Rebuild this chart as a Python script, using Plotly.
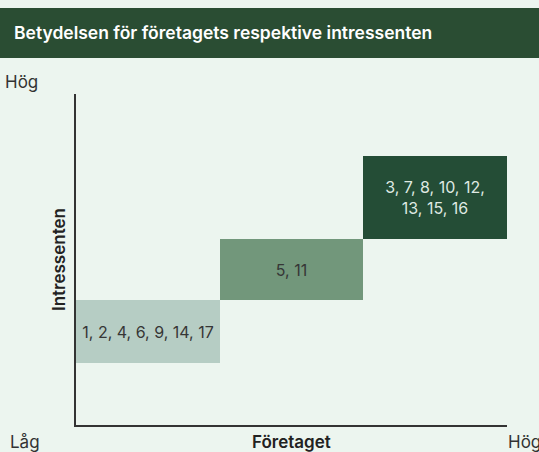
import plotly.graph_objects as go

# Data
groups = ["1, 2, 4, 6, 9, 14, 17", "5, 11", "3, 7, 8, 10, 12,<br>13, 15, 16"]
company_pos = [0.5, 1.5, 2.5]        # importance for the company (x)
stake_base = [1.0, 2.0, 2.98]        # importance for stakeholders, lower bound
stake_height = [1.0, 0.98, 1.33]     # extent of each group
box_colors = ["#b6cdc4", "#72977b", "#244d36"]
text_colors = ["#363636", "#363636", "#dfe9e2"]

title = "Betydelsen för företagets respektive intressenten"
x_title = "Företaget"
y_title = "Intressenten"
low_label = "Låg"
high_label = "Hög"

W, H = 539, 452
ML, MR, MT, MB = 76, 32, 94, 27
PW = W - ML - MR
PH = H - MT - MB

def px(x):
    return (x - ML) / PW

def py(y):
    return (H - MB - y) / PH

FONT = "Inter"
BG = "#ecf5ef"

fig = go.Figure()
fig.add_trace(go.Bar(
    x=company_pos, y=stake_height, base=stake_base, width=1,
    marker=dict(color=box_colors, line=dict(width=0)),
    text=groups, textposition="inside", insidetextanchor="middle",
    textangle=0, constraintext="none",
    textfont=dict(family=FONT, size=16, color=text_colors),
    hoverinfo="skip", showlegend=False,
))

fig.update_layout(
    width=W, height=H,
    margin=dict(l=ML, r=MR, t=MT, b=MB, pad=0),
    paper_bgcolor=BG, plot_bgcolor=BG,
    font=dict(family=FONT, size=16, color="#333333"),
    xaxis=dict(range=[0, 3], showgrid=False, zeroline=False, showticklabels=False,
               ticks="", showline=True, linecolor="#333333", linewidth=1.5, fixedrange=True),
    yaxis=dict(range=[0, 5.3], showgrid=False, zeroline=False, showticklabels=False,
               ticks="", showline=True, linecolor="#333333", linewidth=1.5, fixedrange=True),
    bargap=0,
    shapes=[dict(type="rect", xref="paper", yref="paper",
                 x0=px(-5), x1=px(W + 5), y0=py(58), y1=py(8),
                 fillcolor="#2a4d33", line=dict(width=0), layer="below")],
    annotations=[
        dict(text=title, xref="paper", yref="paper", x=px(12), y=py(32),
             xanchor="left", yanchor="middle", showarrow=False,
             font=dict(family=FONT, size=17.5, color="#ffffff", weight=600)),
        dict(text=high_label, xref="paper", yref="paper", x=px(3), y=py(82),
             xanchor="left", yanchor="middle", showarrow=False,
             font=dict(family=FONT, size=17, color="#333333")),
        dict(text=low_label, xref="paper", yref="paper", x=px(8), y=py(442),
             xanchor="left", yanchor="middle", showarrow=False,
             font=dict(family=FONT, size=17, color="#333333")),
        dict(text=high_label, xref="paper", yref="paper", x=px(506), y=py(442),
             xanchor="left", yanchor="middle", showarrow=False,
             font=dict(family=FONT, size=17, color="#333333")),
        dict(text=x_title, xref="paper", yref="paper", x=0.5, y=py(442),
             xanchor="center", yanchor="middle", showarrow=False,
             font=dict(family=FONT, size=17, color="#222222", weight=600)),
        dict(text=y_title, xref="paper", yref="paper", x=px(59), y=py(260),
             xanchor="center", yanchor="middle", showarrow=False, textangle=-90,
             font=dict(family=FONT, size=17, color="#222222", weight=600)),
    ],
)

fig.write_html("out.html", config={"displayModeBar": False},
               post_script="document.body.style.margin='0';document.body.style.padding='0';")
